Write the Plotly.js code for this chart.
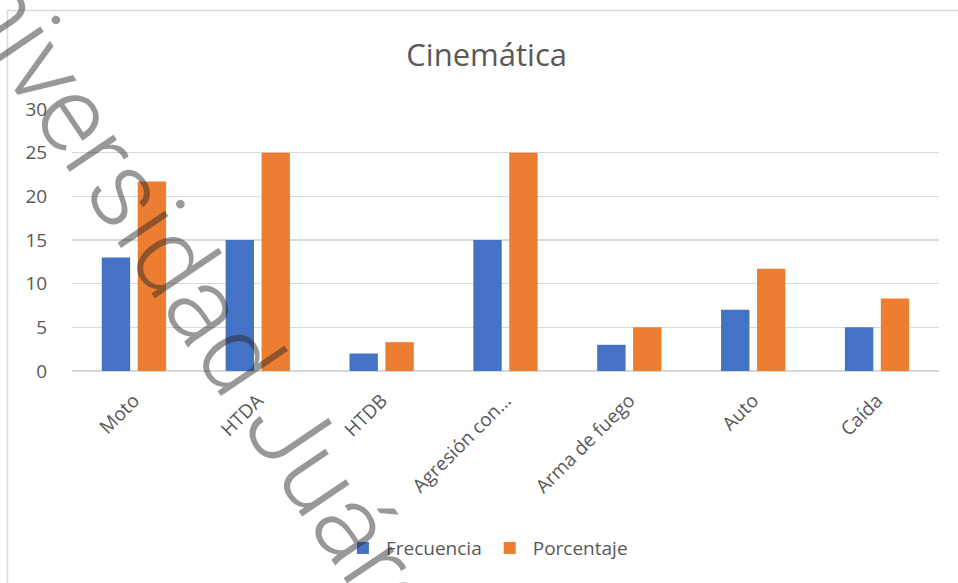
<!DOCTYPE html>
<html>
<head>
<meta charset="utf-8">
<script src="https://cdn.plot.ly/plotly-3.0.1.min.js"></script>
<style>html,body{margin:0;padding:0;background:#fff;}#chart{width:958px;height:583px;}</style>
</head>
<body>
<div id="chart"></div>
<script>
const categories = ["Moto", "HTDA", "HTDB", "Agresión con…", "Arma de fuego", "Auto", "Caída"];
const frecuencia = [13, 15, 2, 15, 3, 7, 5];
const porcentaje = [21.7, 25, 3.3, 25, 5, 11.7, 8.3];
const yTicks = [0, 5, 10, 15, 20, 25, 30];

const FONT = "Open Sans, sans-serif";
const GREY = "#595959";

const traces = [
  {type: "bar", name: "Frecuencia", x: categories, y: frecuencia, marker: {color: "#4472C4"}},
  {type: "bar", name: "Porcentaje", x: categories, y: porcentaje, marker: {color: "#ED7D31"}}
];

const layout = {
  width: 958, height: 583,
  margin: {l: 72, r: 19, t: 109, b: 212},
  paper_bgcolor: "#ffffff", plot_bgcolor: "#ffffff",
  barmode: "group", bargap: 0.42, bargroupgap: 0.21,
  showlegend: true,
  title: {text: "Cinemática", font: {family: FONT, size: 31, color: GREY}, x: 0.508, xanchor: "center", y: 0.905, yanchor: "middle"},
  xaxis: {
    type: "category", tickangle: -45, showgrid: false, zeroline: false, showline: false,
    ticks: "outside", ticklen: 10, tickcolor: "rgba(0,0,0,0)",
    tickfont: {family: FONT, size: 19, color: GREY}
  },
  yaxis: {
    range: [0, 30], tickvals: yTicks, ticktext: yTicks.map(String),
    showgrid: true, gridcolor: "#d9d9d9", gridwidth: 1.5,
    zeroline: true, zerolinecolor: "#d9d9d9", zerolinewidth: 1.5, showline: false,
    ticks: "outside", ticklen: 20, tickcolor: "rgba(0,0,0,0)",
    tickfont: {family: FONT, size: 19, color: GREY}
  },
  legend: {orientation: "h", x: 0.478, xanchor: "center", y: -0.676, yanchor: "middle",
    font: {family: FONT, size: 19, color: GREY}, bgcolor: "rgba(0,0,0,0)", itemwidth: 36},
  shapes: [
    {type: "rect", xref: "paper", yref: "paper",
     x0: (7.5 - 72) / 867, x1: (965 - 72) / 867,
     y0: 1 - (600 - 109) / 262, y1: 1 - (10.5 - 109) / 262,
     line: {color: "#d9d9d9", width: 1.5}, fillcolor: "rgba(0,0,0,0)", layer: "below"}
  ],
  annotations: [
    {text: "Universidad Juárez", xref: "paper", yref: "paper",
     x: (198 - 72) / 867, y: 1 - (296 - 109) / 262, xanchor: "center", yanchor: "middle",
     textangle: 56, showarrow: false,
     font: {family: "Roboto, sans-serif", size: 108, weight: 300, color: "rgba(40,40,40,0.48)"}}
  ]
};

Plotly.newPlot("chart", traces, layout, {displayModeBar: false, staticPlot: true});
</script>
</body>
</html>
